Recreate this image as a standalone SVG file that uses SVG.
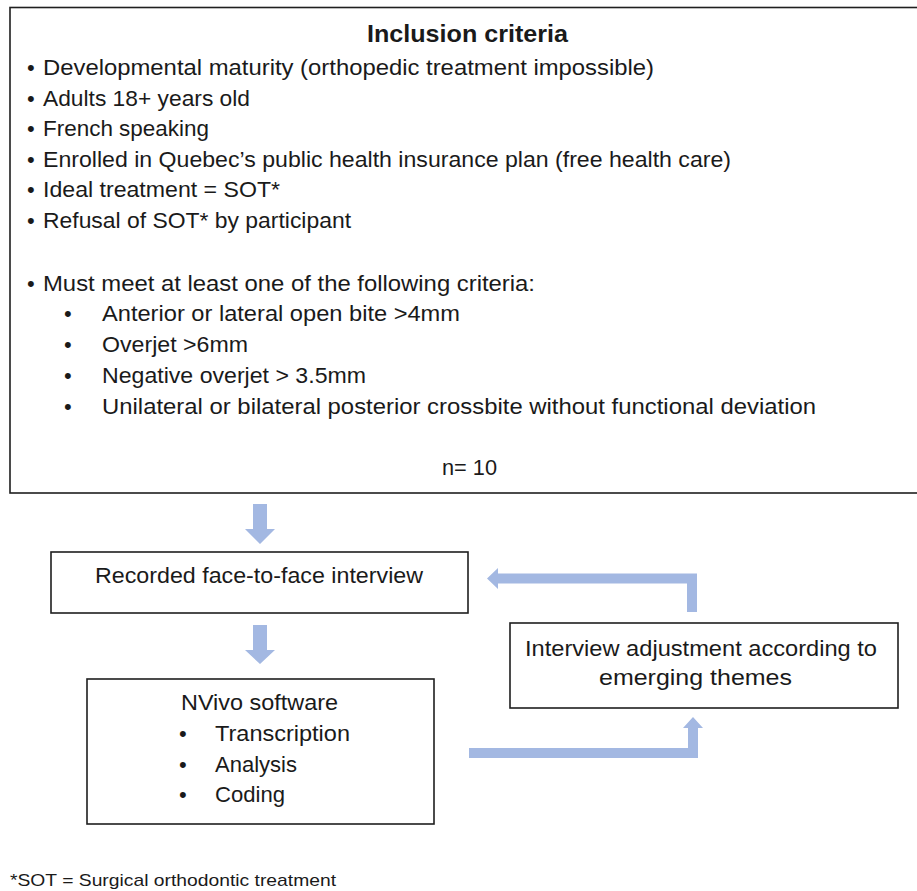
<svg xmlns="http://www.w3.org/2000/svg" width="917" height="891" viewBox="0 0 917 891">
<style>
.box{fill:#ffffff;stroke:#1f1f1f;stroke-width:1.6}
.t{font-family:"Liberation Sans",Arial,sans-serif;font-size:22px;fill:#1a1a1a}
.title{font-family:"Liberation Sans",Arial,sans-serif;font-size:24px;font-weight:bold;fill:#1a1a1a}
.foot{font-family:"Liberation Sans",Arial,sans-serif;font-size:17px;fill:#1a1a1a}
.arr{fill:#a3b8e2}
</style>
<rect width="917" height="891" fill="#ffffff"/>
<g id="inclusion">
<rect class="box" x="10" y="7.5" width="920" height="485.5"/>
<text class="title" x="367" y="42" textLength="201" lengthAdjust="spacingAndGlyphs">Inclusion criteria</text>
<text class="t" x="27" y="75">•</text>
<text class="t" x="43" y="75" textLength="611" lengthAdjust="spacingAndGlyphs">Developmental maturity (orthopedic treatment impossible)</text>
<text class="t" x="27" y="105.5">•</text>
<text class="t" x="43" y="105.5" textLength="207" lengthAdjust="spacingAndGlyphs">Adults 18+ years old</text>
<text class="t" x="27" y="136">•</text>
<text class="t" x="43" y="136" textLength="166" lengthAdjust="spacingAndGlyphs">French speaking</text>
<text class="t" x="27" y="166.5">•</text>
<text class="t" x="43" y="166.5" textLength="688" lengthAdjust="spacingAndGlyphs">Enrolled in Quebec’s public health insurance plan (free health care)</text>
<text class="t" x="27" y="197">•</text>
<text class="t" x="43" y="197" textLength="237" lengthAdjust="spacingAndGlyphs">Ideal treatment = SOT*</text>
<text class="t" x="27" y="227.5">•</text>
<text class="t" x="43" y="227.5" textLength="308" lengthAdjust="spacingAndGlyphs">Refusal of SOT* by participant</text>
<text class="t" x="27" y="290.5">•</text>
<text class="t" x="43" y="290.5" textLength="492" lengthAdjust="spacingAndGlyphs">Must meet at least one of the following criteria:</text>
<text class="t" x="64" y="321">•</text>
<text class="t" x="102" y="321" textLength="358" lengthAdjust="spacingAndGlyphs">Anterior or lateral open bite &gt;4mm</text>
<text class="t" x="64" y="352">•</text>
<text class="t" x="102" y="352" textLength="146" lengthAdjust="spacingAndGlyphs">Overjet &gt;6mm</text>
<text class="t" x="64" y="383">•</text>
<text class="t" x="102" y="383" textLength="264" lengthAdjust="spacingAndGlyphs">Negative overjet &gt; 3.5mm</text>
<text class="t" x="64" y="413.5">•</text>
<text class="t" x="102" y="413.5" textLength="714" lengthAdjust="spacingAndGlyphs">Unilateral or bilateral posterior crossbite without functional deviation</text>
<text class="t" x="442" y="475" textLength="55" lengthAdjust="spacingAndGlyphs">n= 10</text>
</g>
<g id="interview">
<rect class="box" x="51" y="552" width="417" height="61"/>
<text class="t" x="95" y="583" textLength="328" lengthAdjust="spacingAndGlyphs">Recorded face-to-face interview</text>
</g>
<g id="nvivo">
<rect class="box" x="87" y="679" width="347" height="145"/>
<text class="t" x="181" y="710" textLength="157" lengthAdjust="spacingAndGlyphs">NVivo software</text>
<text class="t" x="179" y="741">•</text>
<text class="t" x="215" y="741" textLength="135" lengthAdjust="spacingAndGlyphs">Transcription</text>
<text class="t" x="179" y="772">•</text>
<text class="t" x="215" y="772" textLength="82" lengthAdjust="spacingAndGlyphs">Analysis</text>
<text class="t" x="179" y="802">•</text>
<text class="t" x="215" y="802" textLength="70" lengthAdjust="spacingAndGlyphs">Coding</text>
</g>
<g id="adjustment">
<rect class="box" x="510" y="623" width="388" height="85"/>
<text class="t" x="525" y="656" textLength="352" lengthAdjust="spacingAndGlyphs">Interview adjustment according to</text>
<text class="t" x="599" y="685" textLength="193" lengthAdjust="spacingAndGlyphs">emerging themes</text>
</g>
<g id="connectors">
<polygon class="arr" points="253,504 267,504 267,529 275,529 260,544 245,529 253,529"/>
<polygon class="arr" points="253,625 267,625 267,650 275,650 260,664 245,650 253,650"/>
<polygon class="arr" points="697,612 687,612 687,583.5 498,583.5 498,589 487,578.5 498,568 498,573.5 697,573.5"/>
<polygon class="arr" points="469,748 688,748 688,728 683,728 693,717 703,728 698,728 698,758 469,758"/>
</g>
<text class="foot" x="10" y="886" textLength="326" lengthAdjust="spacingAndGlyphs">*SOT = Surgical orthodontic treatment</text>
</svg>
